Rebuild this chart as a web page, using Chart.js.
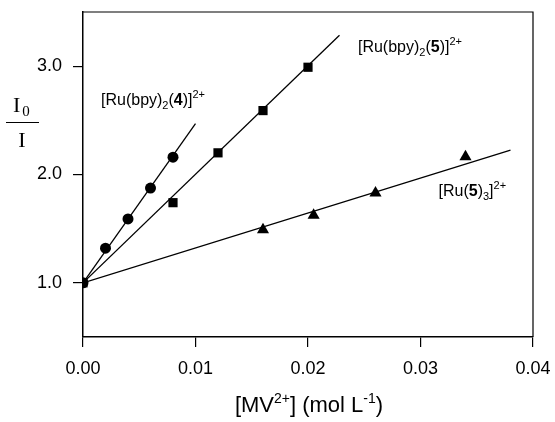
<!DOCTYPE html>
<html>
<head>
<meta charset="utf-8">
<script src="https://cdn.jsdelivr.net/npm/chart.js@4/dist/chart.umd.min.js"></script>
<style>
  html, body { margin: 0; padding: 0; background: #fff; }
  canvas { display: block; }
</style>
</head>
<body>
<canvas id="plot" width="555" height="422"></canvas>
<script>
const conc4 = [0, 0.002, 0.004, 0.006, 0.008];
const ratio4 = [1.0, 1.32, 1.59, 1.875, 2.16];
const conc5 = [0, 0.008, 0.012, 0.016, 0.020];
const ratio5 = [1.0, 1.74, 2.20, 2.59, 2.99];
const concTri = [0.016, 0.0205, 0.026, 0.034];
const ratioTri = [1.49, 1.625, 1.83, 2.165];

// fitted lines (start / end)
const fit4X = [0, 0.0100];
const fit4Y = [1.0, 2.47];
const fit5X = [0, 0.0228];
const fit5Y = [1.0, 3.285];
const fitTriX = [0, 0.0380];
const fitTriY = [1.0, 2.226];

const xTicks = [0, 0.01, 0.02, 0.03, 0.04];
const yTicks = [1.0, 2.0, 3.0];

const SANS = "'Liberation Sans', Arial, Helvetica, sans-serif";
const SERIF = "'Liberation Serif', 'Times New Roman', serif";

function pts(xs, ys) {
    let arr = [];
    for (let i = 0; i < xs.length; i++) {
        arr.push({x: xs[i], y: ys[i]});
    }
    return arr;
}

function fitLine(xs, ys) {
    return {
        data: pts(xs, ys),
        showLine: true,
        borderColor: '#000',
        borderWidth: 1.3,
        pointRadius: 0,
        order: 2
    };
}

function markers(xs, ys, style, r) {
    return {
        data: pts(xs, ys),
        showLine: false,
        pointStyle: style,
        pointRadius: r,
        backgroundColor: '#000',
        borderColor: '#000',
        borderWidth: 0,
        order: 1
    };
}

// draw a string built of pieces (sub/superscripts, bold digits)
function richText(ctx, x, y, parts, align) {
    let w = 0;
    for (const p of parts) {
        ctx.font = p.f;
        w += ctx.measureText(p.t).width;
    }
    let cx = align === 'center' ? x - w / 2 : x;
    for (const p of parts) {
        ctx.font = p.f;
        ctx.fillText(p.t, cx, y + (p.dy || 0));
        cx += ctx.measureText(p.t).width;
    }
}

const N = '16px ' + SANS, B = 'bold 16px ' + SANS, S = '11px ' + SANS;

const labels = [
    {x: 0.0016, y: 2.64, parts: [
        {t: '[Ru(bpy)', f: N}, {t: '2', f: S, dy: 4}, {t: '(', f: N},
        {t: '4', f: B}, {t: ')]', f: N}, {t: '2+', f: S, dy: -7}]},
    {x: 0.02444, y: 3.13, parts: [
        {t: '[Ru(bpy)', f: N}, {t: '2', f: S, dy: 4}, {t: '(', f: N},
        {t: '5', f: B}, {t: ')]', f: N}, {t: '2+', f: S, dy: -7}]},
    {x: 0.0316, y: 1.80, parts: [
        {t: '[Ru(', f: N}, {t: '5', f: B}, {t: ')', f: N},
        {t: '3', f: S, dy: 4}, {t: ']', f: N}, {t: '2+', f: S, dy: -7}]}
];

const extras = {
    id: 'extras',
    afterDraw(chart) {
        const ctx = chart.ctx;
        const a = chart.chartArea;
        const sx = chart.scales.x, sy = chart.scales.y;
        ctx.save();
        // closing frame
        ctx.strokeStyle = '#000';
        ctx.lineWidth = 1.2;
        ctx.beginPath();
        ctx.moveTo(a.left, a.top);
        ctx.lineTo(a.right, a.top);
        ctx.lineTo(a.right, a.bottom);
        ctx.stroke();

        ctx.fillStyle = '#000';
        ctx.textBaseline = 'alphabetic';
        ctx.textAlign = 'left';
        for (const l of labels) {
            richText(ctx, sx.getPixelForValue(l.x), sy.getPixelForValue(l.y), l.parts, 'left');
        }

        // x title
        const T = '22px ' + SANS, TS = '14px ' + SANS;
        richText(ctx, (a.left + a.right) / 2 + 1, 412, [
            {t: '[MV', f: T}, {t: '2+', f: TS, dy: -9}, {t: '] (mol L', f: T},
            {t: '-1', f: TS, dy: -9}, {t: ')', f: T}], 'center');

        // y title: I0 over I
        ctx.font = '22px ' + SERIF;
        ctx.fillText('I', 13, 112);
        const iw = ctx.measureText('I').width;
        ctx.font = '15px ' + SERIF;
        ctx.fillText('0', 13 + iw + 2, 116);
        ctx.lineWidth = 1;
        ctx.beginPath();
        ctx.moveTo(6, 122.5);
        ctx.lineTo(39, 122.5);
        ctx.stroke();
        ctx.font = '22px ' + SERIF;
        ctx.textAlign = 'center';
        ctx.fillText('I', 22, 147);
        ctx.restore();
    }
};

const ctx = document.getElementById('plot').getContext('2d');
const chart = new Chart(ctx, {
    type: 'scatter',
    data: {
        datasets: [
            fitLine(fit4X, fit4Y),
            fitLine(fit5X, fit5Y),
            fitLine(fitTriX, fitTriY),
            markers(conc4, ratio4, 'circle', 5.5),
            markers(conc5, ratio5, 'rect', 6.5),
            markers(concTri, ratioTri, 'triangle', 7)
        ]
    },
    options: {
        responsive: false,
        animation: false,
        devicePixelRatio: 1,
        layout: { padding: { left: 0, right: 22, top: 12, bottom: 0 } },
        plugins: {
            legend: { display: false },
            tooltip: { enabled: false }
        },
        scales: {
            x: {
                type: 'linear',
                min: 0,
                max: 0.04,
                afterBuildTicks: s => { s.ticks = xTicks.map(v => ({value: v})); },
                afterFit: s => { s.height = 85; s.paddingLeft = 0; s.paddingRight = 0; },
                ticks: {
                    color: '#000',
                    font: { family: SANS, size: 18 },
                    padding: 11,
                    maxRotation: 0,
                    callback: v => v.toFixed(2)
                },
                grid: { drawOnChartArea: false, drawTicks: true, tickLength: 10, color: '#000', lineWidth: 1.2 },
                border: { display: true, color: '#000', width: 1.5 }
            },
            y: {
                type: 'linear',
                min: 0.5,
                max: 3.5,
                afterBuildTicks: s => { s.ticks = yTicks.map(v => ({value: v})); },
                afterFit: s => { s.width = 83; s.paddingTop = 0; s.paddingBottom = 0; },
                ticks: {
                    color: '#000',
                    font: { family: SANS, size: 18 },
                    padding: 11,
                    callback: v => v.toFixed(1)
                },
                grid: { drawOnChartArea: false, drawTicks: true, tickLength: 10, color: '#000', lineWidth: 1.2 },
                border: { display: true, color: '#000', width: 1.5 }
            }
        }
    },
    plugins: [extras]
});
</script>
</body>
</html>
